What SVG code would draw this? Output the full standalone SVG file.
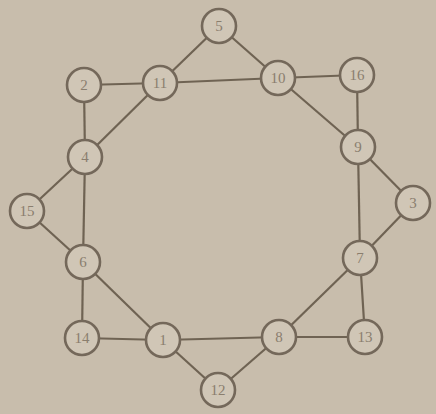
<svg xmlns="http://www.w3.org/2000/svg" width="436" height="414" viewBox="0 0 436 414">
<style>
.e{stroke:#6f6353;stroke-width:2.2;fill:none}
.n circle{fill:#d0c6b6;stroke:#74685a;stroke-width:2.6}
.n text{font-family:"Liberation Serif",serif;font-size:15px;fill:#8a7e6e;text-anchor:middle;dominant-baseline:central}
</style>
<rect width="436" height="414" fill="#c8bdac"/>
<g id="edges">
<line class="e" x1="219" y1="26" x2="160" y2="83"/>
<line class="e" x1="219" y1="26" x2="278" y2="78"/>
<line class="e" x1="160" y1="83" x2="278" y2="78"/>
<line class="e" x1="84" y1="85" x2="160" y2="83"/>
<line class="e" x1="84" y1="85" x2="85" y2="157"/>
<line class="e" x1="85" y1="157" x2="160" y2="83"/>
<line class="e" x1="278" y1="78" x2="357" y2="75"/>
<line class="e" x1="357" y1="75" x2="358" y2="147"/>
<line class="e" x1="278" y1="78" x2="358" y2="147"/>
<line class="e" x1="358" y1="147" x2="413" y2="203"/>
<line class="e" x1="358" y1="147" x2="360" y2="258"/>
<line class="e" x1="413" y1="203" x2="360" y2="258"/>
<line class="e" x1="85" y1="157" x2="27" y2="211"/>
<line class="e" x1="27" y1="211" x2="83" y2="262"/>
<line class="e" x1="85" y1="157" x2="83" y2="262"/>
<line class="e" x1="83" y1="262" x2="82" y2="338"/>
<line class="e" x1="83" y1="262" x2="163" y2="340"/>
<line class="e" x1="82" y1="338" x2="163" y2="340"/>
<line class="e" x1="163" y1="340" x2="279" y2="337"/>
<line class="e" x1="163" y1="340" x2="218" y2="390"/>
<line class="e" x1="279" y1="337" x2="218" y2="390"/>
<line class="e" x1="360" y1="258" x2="279" y2="337"/>
<line class="e" x1="360" y1="258" x2="365" y2="337"/>
<line class="e" x1="279" y1="337" x2="365" y2="337"/>
</g>
<g id="n5" class="n"><circle cx="219" cy="26" r="17"/><text x="219" y="26">5</text></g>
<g id="n11" class="n"><circle cx="160" cy="83" r="17"/><text x="160" y="83">11</text></g>
<g id="n10" class="n"><circle cx="278" cy="78" r="17"/><text x="278" y="78">10</text></g>
<g id="n16" class="n"><circle cx="357" cy="75" r="17"/><text x="357" y="75">16</text></g>
<g id="n2" class="n"><circle cx="84" cy="85" r="17"/><text x="84" y="85">2</text></g>
<g id="n9" class="n"><circle cx="358" cy="147" r="17"/><text x="358" y="147">9</text></g>
<g id="n4" class="n"><circle cx="85" cy="157" r="17"/><text x="85" y="157">4</text></g>
<g id="n15" class="n"><circle cx="27" cy="211" r="17"/><text x="27" y="211">15</text></g>
<g id="n3" class="n"><circle cx="413" cy="203" r="17"/><text x="413" y="203">3</text></g>
<g id="n6" class="n"><circle cx="83" cy="262" r="17"/><text x="83" y="262">6</text></g>
<g id="n7" class="n"><circle cx="360" cy="258" r="17"/><text x="360" y="258">7</text></g>
<g id="n14" class="n"><circle cx="82" cy="338" r="17"/><text x="82" y="338">14</text></g>
<g id="n1" class="n"><circle cx="163" cy="340" r="17"/><text x="163" y="340">1</text></g>
<g id="n8" class="n"><circle cx="279" cy="337" r="17"/><text x="279" y="337">8</text></g>
<g id="n13" class="n"><circle cx="365" cy="337" r="17"/><text x="365" y="337">13</text></g>
<g id="n12" class="n"><circle cx="218" cy="390" r="17"/><text x="218" y="390">12</text></g>
</svg>
